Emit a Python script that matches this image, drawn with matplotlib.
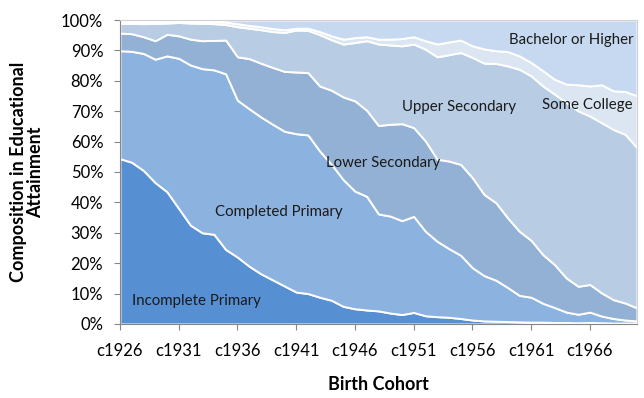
import matplotlib
matplotlib.use('Agg')
import matplotlib.pyplot as plt
from matplotlib.ticker import PercentFormatter

plt.rcParams['font.family'] = ['Lato', 'DejaVu Sans']

cohorts = ['c' + str(y) for y in range(1926, 1971)]

incomplete_primary = [54.4, 53.2, 50.5, 46.5, 43.5, 38.0, 32.5, 30.0, 29.5, 24.5,
                      22.0, 19.0, 16.5, 14.5, 12.5, 10.5, 10.0, 8.8, 7.8, 5.8,
                      5.0, 4.6, 4.3, 3.6, 3.1, 3.8, 2.7, 2.4, 2.2, 1.8,
                      1.3, 1.0, 0.9, 0.8, 0.7, 0.6, 0.6, 0.5, 0.5, 0.4,
                      0.5, 0.4, 0.3, 0.3, 0.3]
completed_primary = [35.5, 36.5, 38.5, 40.6, 44.7, 49.4, 52.7, 54.0, 54.1, 57.8,
                     51.6, 51.8, 51.6, 51.2, 50.9, 52.1, 52.2, 48.1, 44.7, 41.7,
                     38.7, 37.4, 31.9, 31.9, 30.9, 31.6, 27.8, 24.8, 22.6, 20.8,
                     17.2, 14.9, 13.5, 11.2, 8.7, 8.2, 6.2, 4.9, 3.4, 2.8,
                     3.4, 2.2, 1.5, 1.0, 0.7]
lower_secondary = [5.8, 5.8, 5.5, 6.1, 7.1, 7.4, 8.5, 9.2, 9.7, 11.1,
                   14.3, 16.5, 17.7, 18.7, 19.7, 20.3, 20.5, 21.4, 24.4, 27.2,
                   29.7, 28.3, 29.1, 30.2, 31.9, 29.2, 29.7, 27.0, 28.8, 29.9,
                   29.6, 26.7, 25.5, 22.9, 21.1, 18.7, 16.0, 14.1, 11.2, 9.2,
                   9.1, 7.6, 6.2, 5.6, 4.3]
upper_secondary = [3.2, 3.4, 4.3, 5.7, 3.7, 4.4, 5.3, 5.7, 5.5, 5.1,
                   9.9, 10.0, 11.0, 11.8, 12.8, 13.8, 13.9, 16.9, 16.6, 17.4,
                   19.2, 22.9, 26.8, 26.1, 25.6, 27.5, 30.2, 33.7, 35.0, 36.8,
                   39.6, 43.2, 45.8, 50.0, 53.3, 54.1, 55.5, 56.1, 57.8, 57.7,
                   55.4, 56.0, 56.0, 55.5, 52.7]
some_college = [0.7, 0.6, 0.6, 0.6, 0.7, 0.6, 0.6, 0.5, 0.7, 0.8,
                1.0, 0.9, 1.0, 1.0, 0.9, 0.6, 0.7, 1.0, 1.3, 1.6,
                1.6, 1.3, 1.6, 1.9, 2.4, 2.4, 2.8, 4.2, 4.2, 4.1,
                3.8, 4.7, 4.2, 4.7, 4.4, 4.4, 5.0, 4.9, 6.0, 8.6,
                9.9, 12.5, 12.7, 14.1, 17.1]
bachelor = [0.4, 0.5, 0.6, 0.5, 0.3, 0.2, 0.4, 0.6, 0.5, 0.7,
            1.2, 1.8, 2.2, 2.8, 3.2, 2.7, 2.7, 3.8, 5.2, 6.3,
            5.8, 5.5, 6.3, 6.3, 6.1, 5.5, 6.8, 7.9, 7.2, 6.6,
            8.5, 9.5, 10.1, 10.4, 11.8, 14.0, 16.7, 19.5, 21.1, 21.3,
            21.7, 21.3, 23.3, 23.5, 24.9]

labels = ['Incomplete Primary', 'Completed Primary', 'Lower Secondary',
          'Upper Secondary', 'Some College', 'Bachelor or Higher']
colors = ['#578fd3', '#8cb2e0', '#93b1d5', '#b8cce4', '#dce6f2', '#c6d9f1']

x = list(range(len(cohorts)))

fig = plt.figure(figsize=(6.44, 3.98), dpi=100)
ax = fig.add_axes([0.1863, 0.186, 0.8027, 0.7637])

ax.stackplot(x, incomplete_primary, completed_primary, lower_secondary,
             upper_secondary, some_college, bachelor,
             colors=colors, edgecolor='white', linewidth=1.4)

ax.set_xlim(0, len(cohorts) - 1)
ax.set_ylim(0, 100)
ax.set_xticks(x[::5])
ax.set_xticklabels(cohorts[::5])
ax.set_yticks(range(0, 101, 10))
ax.yaxis.set_major_formatter(PercentFormatter(decimals=0))
ax.tick_params(labelsize=12, colors='#868686', labelcolor='black', length=4)
ax.tick_params(axis='y', pad=8)
ax.tick_params(axis='x', pad=10)

for s in ['left', 'bottom']:
    ax.spines[s].set_color('#868686')
for s in ['top', 'right']:
    ax.spines[s].set_color('#d0d0d0')

ax.set_xlabel('Birth Cohort', fontsize=13, fontweight='bold', labelpad=12)
ax.set_ylabel('Composition in Educational\nAttainment', fontsize=13,
              fontweight='bold', labelpad=12, linespacing=1.0)

label_pos = [(6.5, 7.7), (13.5, 36.9), (22.4, 52.8), (28.9, 71.3), (39.8, 71.9), (38.4, 93.4)]
for name, (lx, ly) in zip(labels, label_pos):
    ax.text(lx, ly, name, ha='center', va='center', fontsize=10.8, color='#1a1a1a')

fig.savefig('out.png', dpi=100)
